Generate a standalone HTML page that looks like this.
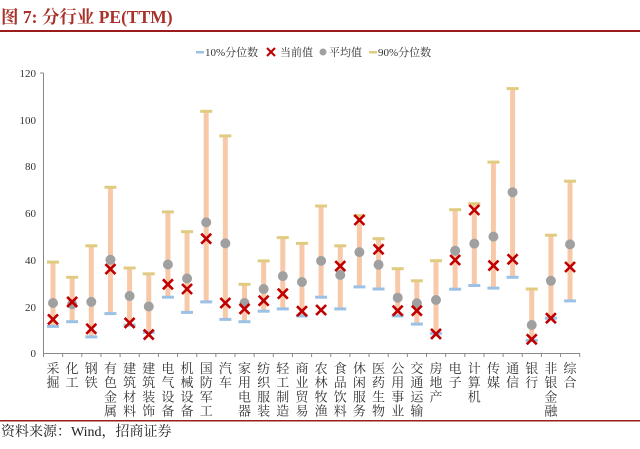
<!DOCTYPE html>
<html><head><meta charset="utf-8"><style>
body{margin:0;background:#fff;}
svg{display:block;font-family:"Liberation Serif","Noto Serif CJK SC",serif;}
</style></head><body>
<svg width="640" height="449" viewBox="0 0 640 449" xmlns="http://www.w3.org/2000/svg">
<defs>
<path id="x" d="M-5 -5L5 5M5 -5L-5 5" stroke="#c00000" stroke-width="2.6" fill="none"/>
<rect id="lo" x="-6" y="-1.5" width="12" height="3" fill="#9bc2e6"/>
<rect id="hi" x="-6" y="-1.5" width="12" height="3" fill="#e0cc80"/>
<circle id="dot" r="5" fill="#a0a0a0"/>
</defs>
<text x="1" y="23" font-size="17.5" font-weight="bold" fill="#a8322a">图 7:  分行业 PE(TTM)</text>
<rect x="0" y="30" width="640" height="2" fill="#9b1c1c"/>
<g font-size="11" fill="#333">
<rect x="196" y="51" width="8" height="2.5" fill="#9bc2e6"/><text x="205" y="56">10%分位数</text>
<use href="#x" transform="translate(271,52) scale(0.8)"/><text x="280" y="56">当前值</text>
<circle cx="323" cy="52" r="3.5" fill="#a0a0a0"/><text x="329" y="56">平均值</text>
<rect x="369" y="51" width="8" height="2.5" fill="#e0cc80"/><text x="378" y="56">90%分位数</text>
</g>
<g font-size="11" fill="#333" text-anchor="end">
<text x="36" y="77">120</text><text x="36" y="124">100</text><text x="36" y="170">80</text>
<text x="36" y="217">60</text><text x="36" y="264">40</text><text x="36" y="311">20</text><text x="36" y="357">0</text>
</g>
<g stroke="#888" stroke-width="1" fill="none">
<line x1="43.5" y1="73" x2="43.5" y2="353"/><line x1="40" y1="73" x2="43.5" y2="73"/>
<line x1="43.5" y1="353.5" x2="580" y2="353.5"/>
<path d="M43.5 353v4M62.65 353v4M81.8 353v4M100.95 353v4M120.1 353v4M139.25 353v4M158.4 353v4M177.55 353v4M196.7 353v4M215.85 353v4M235 353v4M254.15 353v4M273.3 353v4M292.45 353v4M311.6 353v4M330.75 353v4M349.9 353v4M369.05 353v4M388.2 353v4M407.35 353v4M426.5 353v4M445.65 353v4M464.8 353v4M483.95 353v4M503.1 353v4M522.25 353v4M541.4 353v4M560.55 353v4M579.7 353v4"/>
</g>

<g transform="translate(53,0)"><rect x="-2.5" y="262.1" width="5" height="64.3" fill="#f8c9a8"/><use href="#lo" y="326.4"/><use href="#hi" y="262.1"/><use href="#dot" y="303.0"/><use href="#x" y="319.4"/></g>
<g transform="translate(72.15,0)"><rect x="-2.5" y="277.3" width="5" height="44.4" fill="#f8c9a8"/><use href="#lo" y="321.7"/><use href="#hi" y="277.3"/><use href="#dot" y="304.2"/><use href="#x" y="301.9"/></g>
<g transform="translate(91.3,0)"><rect x="-2.5" y="245.8" width="5" height="91.1" fill="#f8c9a8"/><use href="#lo" y="336.9"/><use href="#hi" y="245.8"/><use href="#dot" y="301.9"/><use href="#x" y="328.8"/></g>
<g transform="translate(110.45,0)"><rect x="-2.5" y="187.3" width="5" height="126.3" fill="#f8c9a8"/><use href="#lo" y="313.6"/><use href="#hi" y="187.3"/><use href="#dot" y="259.8"/><use href="#x" y="269.1"/></g>
<g transform="translate(129.6,0)"><rect x="-2.5" y="268.0" width="5" height="57.2" fill="#f8c9a8"/><use href="#lo" y="325.2"/><use href="#hi" y="268.0"/><use href="#dot" y="296.0"/><use href="#x" y="322.9"/></g>
<g transform="translate(148.75,0)"><rect x="-2.5" y="273.8" width="5" height="58.5" fill="#f8c9a8"/><use href="#lo" y="332.3"/><use href="#hi" y="273.8"/><use href="#dot" y="306.5"/><use href="#x" y="334.6"/></g>
<g transform="translate(167.9,0)"><rect x="-2.5" y="211.9" width="5" height="85.3" fill="#f8c9a8"/><use href="#lo" y="297.2"/><use href="#hi" y="211.9"/><use href="#dot" y="264.5"/><use href="#x" y="284.3"/></g>
<g transform="translate(187.05,0)"><rect x="-2.5" y="231.7" width="5" height="80.7" fill="#f8c9a8"/><use href="#lo" y="312.4"/><use href="#hi" y="231.7"/><use href="#dot" y="278.5"/><use href="#x" y="289.0"/></g>
<g transform="translate(206.2,0)"><rect x="-2.5" y="111.3" width="5" height="190.6" fill="#f8c9a8"/><use href="#lo" y="301.9"/><use href="#hi" y="111.3"/><use href="#dot" y="222.4"/><use href="#x" y="238.7"/></g>
<g transform="translate(225.35,0)"><rect x="-2.5" y="135.9" width="5" height="183.5" fill="#f8c9a8"/><use href="#lo" y="319.4"/><use href="#hi" y="135.9"/><use href="#dot" y="243.4"/><use href="#x" y="303.0"/></g>
<g transform="translate(244.5,0)"><rect x="-2.5" y="284.3" width="5" height="37.4" fill="#f8c9a8"/><use href="#lo" y="321.7"/><use href="#hi" y="284.3"/><use href="#dot" y="303.0"/><use href="#x" y="308.9"/></g>
<g transform="translate(263.65,0)"><rect x="-2.5" y="260.9" width="5" height="50.3" fill="#f8c9a8"/><use href="#lo" y="311.2"/><use href="#hi" y="260.9"/><use href="#dot" y="289.0"/><use href="#x" y="300.7"/></g>
<g transform="translate(282.8,0)"><rect x="-2.5" y="237.6" width="5" height="71.3" fill="#f8c9a8"/><use href="#lo" y="308.9"/><use href="#hi" y="237.6"/><use href="#dot" y="276.1"/><use href="#x" y="293.7"/></g>
<g transform="translate(301.95,0)"><rect x="-2.5" y="243.4" width="5" height="72.5" fill="#f8c9a8"/><use href="#lo" y="315.9"/><use href="#hi" y="243.4"/><use href="#dot" y="282.0"/><use href="#x" y="311.2"/></g>
<g transform="translate(321.1,0)"><rect x="-2.5" y="206.0" width="5" height="91.2" fill="#f8c9a8"/><use href="#lo" y="297.2"/><use href="#hi" y="206.0"/><use href="#dot" y="260.9"/><use href="#x" y="310.0"/></g>
<g transform="translate(340.25,0)"><rect x="-2.5" y="245.8" width="5" height="63.1" fill="#f8c9a8"/><use href="#lo" y="308.9"/><use href="#hi" y="245.8"/><use href="#dot" y="275.0"/><use href="#x" y="266.1"/></g>
<g transform="translate(359.4,0)"><rect x="-2.5" y="215.6" width="5" height="71.3" fill="#f8c9a8"/><use href="#lo" y="286.9"/><use href="#hi" y="215.6"/><use href="#dot" y="252.1"/><use href="#x" y="220.0"/></g>
<g transform="translate(378.55,0)"><rect x="-2.5" y="238.7" width="5" height="50.3" fill="#f8c9a8"/><use href="#lo" y="289.0"/><use href="#hi" y="238.7"/><use href="#dot" y="264.7"/><use href="#x" y="249.3"/></g>
<g transform="translate(397.7,0)"><rect x="-2.5" y="268.7" width="5" height="47.2" fill="#f8c9a8"/><use href="#lo" y="315.9"/><use href="#hi" y="268.7"/><use href="#dot" y="297.7"/><use href="#x" y="310.7"/></g>
<g transform="translate(416.85,0)"><rect x="-2.5" y="280.8" width="5" height="43.3" fill="#f8c9a8"/><use href="#lo" y="324.1"/><use href="#hi" y="280.8"/><use href="#dot" y="303.3"/><use href="#x" y="310.7"/></g>
<g transform="translate(436,0)"><rect x="-2.5" y="260.7" width="5" height="72.7" fill="#f8c9a8"/><use href="#lo" y="333.4"/><use href="#hi" y="260.7"/><use href="#dot" y="300.0"/><use href="#x" y="333.9"/></g>
<g transform="translate(455.15,0)"><rect x="-2.5" y="209.7" width="5" height="79.5" fill="#f8c9a8"/><use href="#lo" y="289.2"/><use href="#hi" y="209.7"/><use href="#dot" y="250.7"/><use href="#x" y="260.0"/></g>
<g transform="translate(474.3,0)"><rect x="-2.5" y="203.7" width="5" height="81.8" fill="#f8c9a8"/><use href="#lo" y="285.5"/><use href="#hi" y="203.7"/><use href="#dot" y="243.6"/><use href="#x" y="210.0"/></g>
<g transform="translate(493.45,0)"><rect x="-2.5" y="162.1" width="5" height="126.0" fill="#f8c9a8"/><use href="#lo" y="288.1"/><use href="#hi" y="162.1"/><use href="#dot" y="236.6"/><use href="#x" y="265.6"/></g>
<g transform="translate(512.6,0)"><rect x="-2.5" y="88.6" width="5" height="188.7" fill="#f8c9a8"/><use href="#lo" y="277.3"/><use href="#hi" y="88.6"/><use href="#dot" y="192.2"/><use href="#x" y="259.3"/></g>
<g transform="translate(531.75,0)"><rect x="-2.5" y="289.0" width="5" height="51.4" fill="#f8c9a8"/><use href="#lo" y="340.4"/><use href="#hi" y="289.0"/><use href="#dot" y="325.0"/><use href="#x" y="339.3"/></g>
<g transform="translate(550.9,0)"><rect x="-2.5" y="235.2" width="5" height="83.0" fill="#f8c9a8"/><use href="#lo" y="318.2"/><use href="#hi" y="235.2"/><use href="#dot" y="280.8"/><use href="#x" y="318.2"/></g>
<g transform="translate(570.05,0)"><rect x="-2.5" y="181.2" width="5" height="119.7" fill="#f8c9a8"/><use href="#lo" y="300.9"/><use href="#hi" y="181.2"/><use href="#dot" y="244.4"/><use href="#x" y="267.0"/></g>

<g font-size="13" fill="#333" text-anchor="middle">
<text y="373"><tspan x="53">采</tspan><tspan x="53" dy="14.2">掘</tspan></text>
<text y="373"><tspan x="72.15">化</tspan><tspan x="72.15" dy="14.2">工</tspan></text>
<text y="373"><tspan x="91.3">钢</tspan><tspan x="91.3" dy="14.2">铁</tspan></text>
<text y="373"><tspan x="110.45">有</tspan><tspan x="110.45" dy="14.2">色</tspan><tspan x="110.45" dy="14.2">金</tspan><tspan x="110.45" dy="14.2">属</tspan></text>
<text y="373"><tspan x="129.6">建</tspan><tspan x="129.6" dy="14.2">筑</tspan><tspan x="129.6" dy="14.2">材</tspan><tspan x="129.6" dy="14.2">料</tspan></text>
<text y="373"><tspan x="148.75">建</tspan><tspan x="148.75" dy="14.2">筑</tspan><tspan x="148.75" dy="14.2">装</tspan><tspan x="148.75" dy="14.2">饰</tspan></text>
<text y="373"><tspan x="167.9">电</tspan><tspan x="167.9" dy="14.2">气</tspan><tspan x="167.9" dy="14.2">设</tspan><tspan x="167.9" dy="14.2">备</tspan></text>
<text y="373"><tspan x="187.05">机</tspan><tspan x="187.05" dy="14.2">械</tspan><tspan x="187.05" dy="14.2">设</tspan><tspan x="187.05" dy="14.2">备</tspan></text>
<text y="373"><tspan x="206.2">国</tspan><tspan x="206.2" dy="14.2">防</tspan><tspan x="206.2" dy="14.2">军</tspan><tspan x="206.2" dy="14.2">工</tspan></text>
<text y="373"><tspan x="225.35">汽</tspan><tspan x="225.35" dy="14.2">车</tspan></text>
<text y="373"><tspan x="244.5">家</tspan><tspan x="244.5" dy="14.2">用</tspan><tspan x="244.5" dy="14.2">电</tspan><tspan x="244.5" dy="14.2">器</tspan></text>
<text y="373"><tspan x="263.65">纺</tspan><tspan x="263.65" dy="14.2">织</tspan><tspan x="263.65" dy="14.2">服</tspan><tspan x="263.65" dy="14.2">装</tspan></text>
<text y="373"><tspan x="282.8">轻</tspan><tspan x="282.8" dy="14.2">工</tspan><tspan x="282.8" dy="14.2">制</tspan><tspan x="282.8" dy="14.2">造</tspan></text>
<text y="373"><tspan x="301.95">商</tspan><tspan x="301.95" dy="14.2">业</tspan><tspan x="301.95" dy="14.2">贸</tspan><tspan x="301.95" dy="14.2">易</tspan></text>
<text y="373"><tspan x="321.1">农</tspan><tspan x="321.1" dy="14.2">林</tspan><tspan x="321.1" dy="14.2">牧</tspan><tspan x="321.1" dy="14.2">渔</tspan></text>
<text y="373"><tspan x="340.25">食</tspan><tspan x="340.25" dy="14.2">品</tspan><tspan x="340.25" dy="14.2">饮</tspan><tspan x="340.25" dy="14.2">料</tspan></text>
<text y="373"><tspan x="359.4">休</tspan><tspan x="359.4" dy="14.2">闲</tspan><tspan x="359.4" dy="14.2">服</tspan><tspan x="359.4" dy="14.2">务</tspan></text>
<text y="373"><tspan x="378.55">医</tspan><tspan x="378.55" dy="14.2">药</tspan><tspan x="378.55" dy="14.2">生</tspan><tspan x="378.55" dy="14.2">物</tspan></text>
<text y="373"><tspan x="397.7">公</tspan><tspan x="397.7" dy="14.2">用</tspan><tspan x="397.7" dy="14.2">事</tspan><tspan x="397.7" dy="14.2">业</tspan></text>
<text y="373"><tspan x="416.85">交</tspan><tspan x="416.85" dy="14.2">通</tspan><tspan x="416.85" dy="14.2">运</tspan><tspan x="416.85" dy="14.2">输</tspan></text>
<text y="373"><tspan x="436">房</tspan><tspan x="436" dy="14.2">地</tspan><tspan x="436" dy="14.2">产</tspan></text>
<text y="373"><tspan x="455.15">电</tspan><tspan x="455.15" dy="14.2">子</tspan></text>
<text y="373"><tspan x="474.3">计</tspan><tspan x="474.3" dy="14.2">算</tspan><tspan x="474.3" dy="14.2">机</tspan></text>
<text y="373"><tspan x="493.45">传</tspan><tspan x="493.45" dy="14.2">媒</tspan></text>
<text y="373"><tspan x="512.6">通</tspan><tspan x="512.6" dy="14.2">信</tspan></text>
<text y="373"><tspan x="531.75">银</tspan><tspan x="531.75" dy="14.2">行</tspan></text>
<text y="373"><tspan x="550.9">非</tspan><tspan x="550.9" dy="14.2">银</tspan><tspan x="550.9" dy="14.2">金</tspan><tspan x="550.9" dy="14.2">融</tspan></text>
<text y="373"><tspan x="570.05">综</tspan><tspan x="570.05" dy="14.2">合</tspan></text>
</g>
<rect x="0" y="420" width="640" height="1.5" fill="#9b1c1c"/>
<text x="1" y="436" font-size="14" fill="#222">资料来源：Wind，招商证券</text>
</svg>
</body></html>
